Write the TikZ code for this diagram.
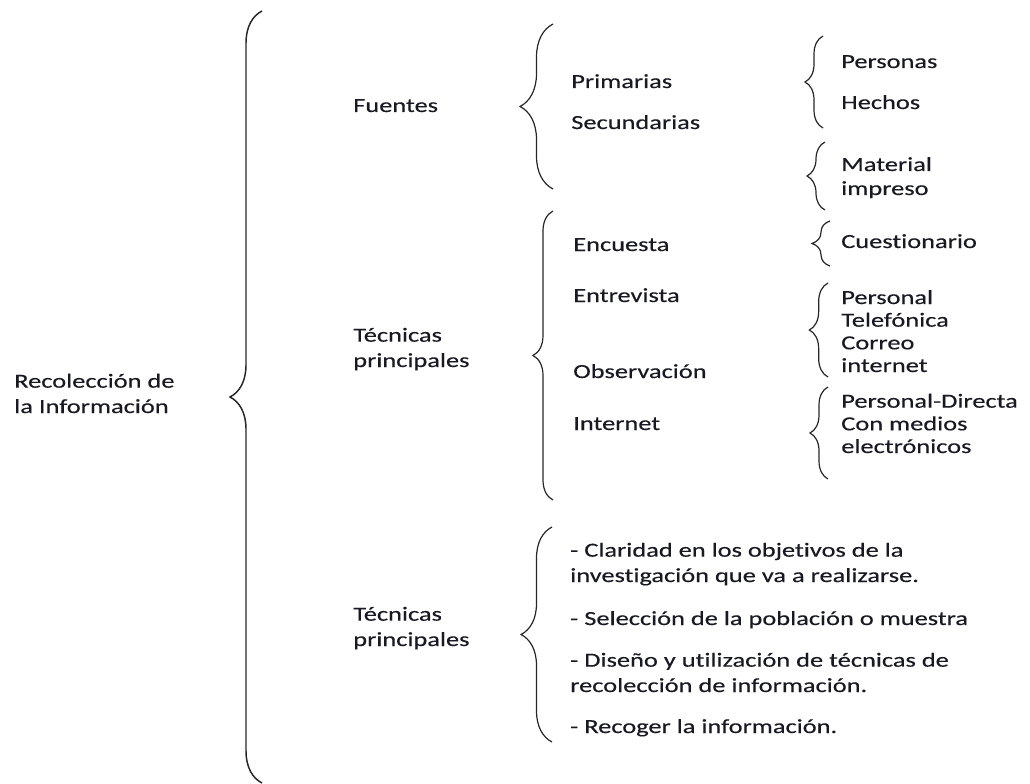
\documentclass[tikz,border=0pt]{standalone}
\usepackage{fontspec}
\setmainfont{Carlito}[FakeStretch=1.32, FakeBold=0.3, Ligatures=NoCommon]
\usetikzlibrary{decorations.pathreplacing}
\definecolor{texto}{RGB}{25,25,35}
\tikzset{
	llave/.style={decorate, decoration={brace, amplitude=#1}, line width=0.9pt, color=black!85},
	etiqueta/.style={anchor=base west, inner sep=0pt, color=texto, align=left, font=\fontsize{15}{19}\selectfont},
	lista/.style={etiqueta, font=\fontsize{15}{17}\selectfont}
}
\begin{document}
\begin{tikzpicture}[x=0.75pt, y=-0.75pt]
			%%%%% START %%%%%
			\useasboundingbox (0, 0) rectangle (1030, 784);
			
			\node[etiqueta] (recoleccion) at (14, 413) {Recolección de\\la Información};
			\draw[llave=24pt, line width=1.1pt] (262, 783) -- (262, 11);
			
			\node[etiqueta] (fuentes) at (353, 112) {Fuentes};
			\node[etiqueta] (tecnicas) at (353, 367) {Técnicas\\principales};
			\node[etiqueta] (tecnicasb) at (353, 646) {Técnicas\\principales};
			
			\draw[llave=24.75pt] (553, 189) -- (553, 24);
			\node[etiqueta] (primarias) at (571, 88) {Primarias};
			\node[etiqueta] (secundarias) at (571, 129) {Secundarias};
			
			\draw[llave=13.5pt] (823, 128) -- (823, 36);
			\node[etiqueta] (personas) at (841, 68) {Personas};
			\node[etiqueta] (hechos) at (841, 109) {Hechos};
			
			\draw[llave=13.5pt] (825, 210) -- (825, 142);
			\node[etiqueta, font=\fontsize{15}{18}\selectfont] (material) at (841, 195) {Material\\impreso};
			
			\draw[llave=15pt] (553, 500) -- (553, 211);
			\node[etiqueta] (encuesta) at (573, 251) {Encuesta};
			\node[etiqueta] (entrevista) at (573, 302) {Entrevista};
			\node[etiqueta] (observacion) at (573, 378) {Observación};
			\node[etiqueta] (internet) at (573, 430) {Internet};
			
			\draw[llave=13.5pt] (830, 266) -- (830, 221);
			\node[etiqueta] (cuestionario) at (841, 248) {Cuestionario};
			
			\draw[llave=14pt] (828, 377) -- (828, 283);
			\node[lista] (personal) at (841, 372) {Personal\\Telefónica\\Correo\\internet};
			
			\draw[llave=13.5pt] (828, 479) -- (828, 387);
			\node[lista] (directa) at (841, 453) {Personal-Directa\\Con medios\\electrónicos};
			
			\draw[llave=23.25pt] (552, 742) -- (552, 527);
			\node[etiqueta] (claridad) at (570, 582) {- Claridad en los objetivos de la\\investigación que va a realizarse.};
			\node[etiqueta] (seleccion) at (570, 625) {- Selección de la población o muestra};
			\node[etiqueta] (diseno) at (570, 692) {- Diseño y utilización de técnicas de\\recolección de información.};
			\node[etiqueta] (recoger) at (570, 733) {- Recoger la información.};
			
			%%%%% END %%%%%
		\end{tikzpicture}
\end{document}
